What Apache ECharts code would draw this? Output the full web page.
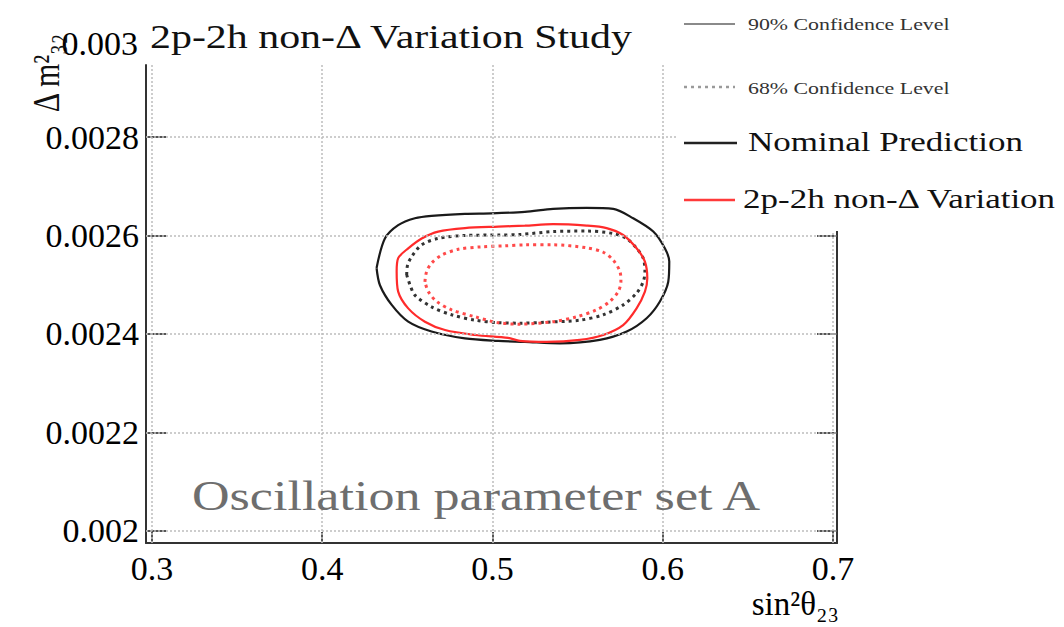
<!DOCTYPE html>
<html>
<head>
<meta charset="utf-8">
<title>2p-2h non-Δ Variation Study</title>
<script src="https://cdn.jsdelivr.net/npm/echarts@6/dist/echarts.min.js"></script>
<style>
  html, body { margin: 0; padding: 0; background: #fff; }
  #main { width: 1064px; height: 627px; }
</style>
</head>
<body>
<div id="main"></div>
<script>
// ---- tick values
var xTicks = [0.3, 0.4, 0.5, 0.6, 0.7];
var yTicks = [0.002, 0.0022, 0.0024, 0.0026, 0.0028];

// ---- contours [sin^2 theta23, dm2]
var nominal90 = [
  [0.4319, 0.002534], [0.4368, 0.002594], [0.4446, 0.002621], [0.4544, 0.002635],
  [0.4642, 0.002640], [0.4838, 0.002644], [0.4995, 0.002645], [0.5190, 0.002648],
  [0.5356, 0.002654], [0.5553, 0.002656], [0.5709, 0.002654], [0.5826, 0.002635],
  [0.5944, 0.002608], [0.6012, 0.002574], [0.6038, 0.002547], [0.6032, 0.002506],
  [0.5983, 0.002466], [0.5905, 0.002432], [0.5788, 0.002405], [0.5630, 0.002388],
  [0.5396, 0.002381], [0.5190, 0.002384], [0.5033, 0.002386], [0.4838, 0.002391],
  [0.4642, 0.002405], [0.4505, 0.002425], [0.4408, 0.002459], [0.4339, 0.002499],
  [0.4319, 0.002534]
];
var nominal68 = [
  [0.4496, 0.002520], [0.4501, 0.002540], [0.4525, 0.002557], [0.4584, 0.002581],
  [0.4681, 0.002594], [0.4838, 0.002600], [0.5033, 0.002601], [0.5161, 0.002602],
  [0.5356, 0.002608], [0.5553, 0.002609], [0.5709, 0.002604], [0.5787, 0.002594],
  [0.5846, 0.002574], [0.5885, 0.002554], [0.5895, 0.002527], [0.5885, 0.002506],
  [0.5846, 0.002483], [0.5767, 0.002459], [0.5650, 0.002439], [0.5513, 0.002428],
  [0.5318, 0.002424], [0.5161, 0.002422], [0.5033, 0.002423], [0.4897, 0.002428],
  [0.4760, 0.002439], [0.4642, 0.002455], [0.4544, 0.002479], [0.4515, 0.002500],
  [0.4496, 0.002520]
];
var variation90 = [
  [0.4437, 0.002527], [0.4446, 0.002554], [0.4505, 0.002574], [0.4584, 0.002594],
  [0.4681, 0.002608], [0.4838, 0.002615], [0.5034, 0.002618], [0.5190, 0.002620],
  [0.5356, 0.002623], [0.5553, 0.002620], [0.5670, 0.002615], [0.5767, 0.002601],
  [0.5846, 0.002574], [0.5895, 0.002547], [0.5909, 0.002513], [0.5895, 0.002486],
  [0.5846, 0.002452], [0.5767, 0.002418], [0.5650, 0.002398], [0.5513, 0.002388],
  [0.5318, 0.002384], [0.5161, 0.002386], [0.5092, 0.002392], [0.4897, 0.002398],
  [0.4721, 0.002408], [0.4603, 0.002425], [0.4505, 0.002452], [0.4446, 0.002486],
  [0.4437, 0.002527]
];
var variation68 = [
  [0.4603, 0.002506], [0.4613, 0.002527], [0.4642, 0.002544], [0.4701, 0.002560],
  [0.4799, 0.002572], [0.4936, 0.002577], [0.5073, 0.002579], [0.5190, 0.002581],
  [0.5356, 0.002581], [0.5553, 0.002575], [0.5650, 0.002566], [0.5709, 0.002550],
  [0.5748, 0.002527], [0.5754, 0.002506], [0.5738, 0.002486], [0.5689, 0.002466],
  [0.5611, 0.002449], [0.5494, 0.002435], [0.5356, 0.002425], [0.5161, 0.002420],
  [0.5033, 0.002423], [0.4897, 0.002435], [0.4760, 0.002449], [0.4672, 0.002466],
  [0.4623, 0.002486], [0.4603, 0.002506]
];

var SERIF = '"Liberation Serif", "DejaVu Serif", serif';
var BLACK = '#1a1a1a';
var RED = '#ff2b2b';

var myChart = echarts.init(document.getElementById('main'), null, { renderer: 'svg' });

function yAxisCfg(pos, showLabel) {
  return {
    type: 'value',
    position: pos,
    min: 0.0019756,
    max: 0.0029462,
    axisLine: { show: true, onZero: false, lineStyle: { color: '#333', width: 2 } },
    axisTick: { show: true, inside: true, length: 20, customValues: yTicks,
                lineStyle: { color: '#555', width: 2 } },
    axisLabel: { show: showLabel, customValues: yTicks, margin: 7,
                 fontFamily: SERIF, fontSize: 34, color: '#000',
                 formatter: function (v) { return String(+v.toFixed(4)); } },
    splitLine: { show: false }
  };
}

var gridLineStyle = { color: '#bdbdbd', width: 1.5, type: [2, 2] };

var option = {
  animation: false,
  backgroundColor: '#fff',
  grid: { left: 146, right: 227, top: 65, bottom: 84, containLabel: false, outerBoundsMode: 'none' },
  xAxis: {
    type: 'value',
    min: 0.2965,
    max: 0.7023,
    name: 'sin²θ₂₃',
    nameLocation: 'end',
    nameGap: 2,
    nameMoveOverlap: false,
    nameTextStyle: { fontFamily: SERIF, fontSize: 33, color: '#000',
                     align: 'right', verticalAlign: 'top', padding: [44, 0, 0, 0] },
    axisLine: { show: true, onZero: false, lineStyle: { color: '#333', width: 2 } },
    axisTick: { show: true, inside: true, length: 11, customValues: xTicks,
                lineStyle: { color: '#555', width: 2 } },
    axisLabel: { customValues: xTicks, margin: 8, fontFamily: SERIF, fontSize: 34, color: '#000',
                 formatter: function (v) { return String(+v.toFixed(1)); } },
    splitLine: { show: false }
  },
  yAxis: [yAxisCfg('left', true), yAxisCfg('right', false)],
  series: [
    {
      // ---- dotted grid (invisible carrier line)
      type: 'line', data: nominal90, silent: true, z: 1, showSymbol: false,
      lineStyle: { opacity: 0 },
      markLine: {
        silent: true, symbol: 'none', precision: 6, label: { show: false }, lineStyle: gridLineStyle,
        data: xTicks.map(function (v) { return { xAxis: v }; })
          .concat(yTicks.map(function (v) { return { yAxis: v }; }))
      }
    },
    { name: 'Nominal 90%', type: 'line', data: nominal90, showSymbol: false, smooth: 0.3, z: 3,
      lineStyle: { color: BLACK, width: 2.2 } },
    { name: 'Nominal 68%', type: 'line', data: nominal68, showSymbol: false, smooth: 0.3, z: 3,
      lineStyle: { color: '#333', width: 3, type: [3, 4] } },
    { name: '2p-2h non-Δ Variation 90%', type: 'line', data: variation90, showSymbol: false, smooth: 0.3, z: 4,
      lineStyle: { color: RED, width: 2.2 } },
    { name: '2p-2h non-Δ Variation 68%', type: 'line', data: variation68, showSymbol: false, smooth: 0.3, z: 4,
      lineStyle: { color: '#ff4a4a', width: 3, type: [3, 4] } }
  ],
  graphic: [
    // legend backdrop covers the top right of the frame
    { type: 'rect', z: 100, shape: { x: 678, y: 0, width: 386, height: 231 }, style: { fill: '#fff' } },
    { type: 'line', z: 101, shape: { x1: 684, y1: 24, x2: 735, y2: 24 }, style: { stroke: '#8a8a8a', lineWidth: 2 } },
    { type: 'line', z: 101, shape: { x1: 684, y1: 87, x2: 735, y2: 87 }, style: { stroke: '#9a9a9a', lineWidth: 2.5, lineDash: [3, 4] } },
    { type: 'line', z: 101, shape: { x1: 684, y1: 143, x2: 737, y2: 143 }, style: { stroke: '#222', lineWidth: 2.5 } },
    { type: 'line', z: 101, shape: { x1: 684, y1: 200, x2: 735, y2: 200 }, style: { stroke: '#ff3a3a', lineWidth: 2.5 } },
    { type: 'text', z: 101, x: 748, y: 24, scaleX: 1.25,
      style: { text: '90% Confidence Level', font: '17.5px ' + SERIF, fill: '#333', align: 'left', verticalAlign: 'middle' } },
    { type: 'text', z: 101, x: 748, y: 88, scaleX: 1.25,
      style: { text: '68% Confidence Level', font: '17.5px ' + SERIF, fill: '#333', align: 'left', verticalAlign: 'middle' } },
    { type: 'text', z: 101, x: 748, y: 142, scaleX: 1.25,
      style: { text: 'Nominal Prediction', font: '28px ' + SERIF, fill: '#111', align: 'left', verticalAlign: 'middle' } },
    { type: 'text', z: 101, x: 743, y: 199, scaleX: 1.25,
      style: { text: '2p-2h non-Δ Variation', font: '28px ' + SERIF, fill: '#111', align: 'left', verticalAlign: 'middle' } },
    // title
    { type: 'text', z: 102, x: 150, y: 37, scaleX: 1.27,
      style: { text: '2p-2h non-Δ Variation Study', font: '33px ' + SERIF, fill: '#111', align: 'left', verticalAlign: 'middle' } },
    // top tick label sitting above the frame
    { type: 'text', z: 102, x: 138, y: 43,
      style: { text: '0.003', font: '34px ' + SERIF, fill: '#000', align: 'right', verticalAlign: 'middle' } },
    // y axis title
    { type: 'text', z: 102, x: 46, y: 73, rotation: Math.PI / 2, scaleY: 1.27,
      style: { text: 'Δ m²₃₂', font: '30px ' + SERIF, fill: '#111', align: 'center', verticalAlign: 'middle' } },
    // plot annotation
    { type: 'text', z: 102, x: 192, y: 496, scaleX: 1.24,
      style: { text: 'Oscillation parameter set A', font: '42px ' + SERIF, fill: '#6e6e6e', align: 'left', verticalAlign: 'middle' } }
  ]
};

myChart.setOption(option);
</script>
</body>
</html>
